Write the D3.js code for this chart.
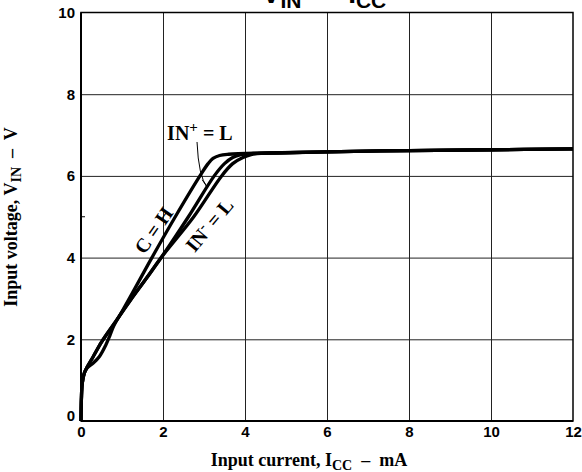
<!DOCTYPE html>
<html>
<head>
<meta charset="utf-8">
<script src="https://cdn.jsdelivr.net/npm/d3@7"></script>
<style>
body { margin: 0; background: #fff; }
text { fill: #000; }
</style>
</head>
<body>
<svg id="chart" width="582" height="472"></svg>
<script>
// axis ticks
const xTicks = [0, 2, 4, 6, 8, 10, 12];
const yTicks = [0, 2, 4, 6, 8, 10];
const yMinor = [5];

// curves, [I_CC mA, V_IN V]
const curveCH = [[0, 0], [0.01, 0.55], [0.03, 0.92], [0.08, 1.17], [0.15, 1.3], [0.3, 1.42], [0.45, 1.58],
    [0.6, 1.85], [0.7, 2.08], [0.8, 2.33], [1.0, 2.68], [1.4, 3.4], [1.73, 4.0], [2.3, 5.0], [2.92, 6.03],
    [3.1, 6.3], [3.22, 6.43], [3.38, 6.5], [3.6, 6.53], [4.5, 6.56], [6, 6.59], [8, 6.62], [10, 6.64], [12, 6.66]];
const curveINp = [[0, 0], [0.01, 0.55], [0.03, 0.92], [0.08, 1.17], [0.15, 1.32], [0.3, 1.58], [0.5, 1.93],
    [0.8, 2.37], [1.2, 2.95], [1.6, 3.5], [1.97, 4.02], [2.62, 5.0], [3.25, 6.0], [3.5, 6.3], [3.7, 6.45],
    [3.9, 6.52], [4.2, 6.55], [4.6, 6.56], [6, 6.59], [8, 6.62], [10, 6.64], [12, 6.66]];
const curveINm = [[0, 0], [0.01, 0.55], [0.03, 0.92], [0.08, 1.17], [0.15, 1.32], [0.3, 1.58], [0.5, 1.93],
    [0.8, 2.37], [1.2, 2.95], [1.6, 3.5], [1.97, 4.02], [2.75, 5.0], [3.43, 6.0], [3.7, 6.3], [3.95, 6.45],
    [4.15, 6.52], [4.4, 6.55], [4.8, 6.56], [6, 6.59], [8, 6.62], [10, 6.64], [12, 6.66]];

const svg = d3.select("#chart");
const x = d3.scaleLinear().domain([0, 12]).range([81, 573]);
const y = d3.scaleLinear().domain([0, 10]).range([421, 12.5]);

const sans = "'Liberation Sans', Arial, sans-serif";
const serif = "'Liberation Serif', 'Times New Roman', serif";

// grid
svg.append("g")
    .attr("transform", "translate(0," + y(0) + ")")
    .call(d3.axisBottom(x).tickValues(xTicks.slice(1, -1)).tickSize(-(y(0) - y(10))).tickFormat(""))
    .call(g => g.select(".domain").remove())
    .selectAll("line").attr("stroke", "#222").attr("stroke-width", 1);

svg.append("g")
    .attr("transform", "translate(" + x(0) + ",0)")
    .call(d3.axisLeft(y).tickValues(yTicks.slice(1, -1)).tickSize(-(x(12) - x(0))).tickFormat(""))
    .call(g => g.select(".domain").remove())
    .selectAll("line").attr("stroke", "#222").attr("stroke-width", 1);

// minor tick
svg.selectAll(".minor")
    .data(yMinor)
    .enter().append("line")
        .attr("x1", x(0)).attr("x2", x(0) + 4)
        .attr("y1", d => y(d)).attr("y2", d => y(d))
        .attr("stroke", "#000").attr("stroke-width", 1);

// frame
svg.append("rect")
    .attr("x", x(0)).attr("y", y(10))
    .attr("width", x(12) - x(0)).attr("height", y(0) - y(10))
    .attr("fill", "none").attr("stroke", "#000").attr("stroke-width", 1.5);
svg.append("line")
    .attr("x1", x(0)).attr("x2", x(0)).attr("y1", y(0)).attr("y2", y(10))
    .attr("stroke", "#000").attr("stroke-width", 2);
svg.append("line")
    .attr("x1", x(0)).attr("x2", x(12)).attr("y1", y(0)).attr("y2", y(0))
    .attr("stroke", "#000").attr("stroke-width", 2);

// tick labels
const xAxis = svg.append("g")
    .attr("transform", "translate(0," + y(0) + ")")
    .call(d3.axisBottom(x).tickValues(xTicks).tickSize(0).tickPadding(5));
xAxis.select(".domain").remove();
xAxis.selectAll("text")
    .style("font-family", sans).style("font-size", "15px").style("font-weight", "bold");

const yAxis = svg.append("g")
    .attr("transform", "translate(" + x(0) + ",0)")
    .call(d3.axisLeft(y).tickValues(yTicks).tickSize(0).tickPadding(6));
yAxis.select(".domain").remove();
yAxis.selectAll("text")
    .style("font-family", sans).style("font-size", "15px").style("font-weight", "bold");
yAxis.selectAll("text").filter(d => d === 0).attr("y", -5);

// curves
const line = d3.line()
    .x(d => x(d[0]))
    .y(d => y(d[1]))
    .curve(d3.curveCatmullRom.alpha(0.5));

svg.selectAll(".curve")
    .data([curveCH, curveINp, curveINm])
    .enter().append("path")
        .attr("class", "curve")
        .attr("d", line)
        .attr("fill", "none")
        .attr("stroke", "#000")
        .attr("stroke-width", 3.3)
        .attr("stroke-linejoin", "round");

// title (cut off at the top)
const title = svg.append("text")
    .attr("x", 324).attr("y", 3)
    .attr("text-anchor", "middle")
    .style("font-family", sans).style("font-size", "28px").style("font-weight", "bold")
    .style("white-space", "pre");
title.append("tspan").text("V");
title.append("tspan").attr("dy", 5).style("font-size", "21px").text("IN");
title.append("tspan").attr("dy", -5).text("  \u2013  I");
title.append("tspan").attr("dy", 5).style("font-size", "21px").text("CC");

// axis titles
const xTitle = svg.append("text")
    .attr("x", 309).attr("y", 466)
    .attr("text-anchor", "middle")
    .style("font-family", serif).style("font-size", "18px").style("font-weight", "bold")
    .style("white-space", "pre");
xTitle.append("tspan").text("Input current, I");
xTitle.append("tspan").attr("dy", 4).style("font-size", "14px").text("CC");
xTitle.append("tspan").attr("dy", -4).text("  \u2013  mA");

const yTitle = svg.append("text")
    .attr("transform", "translate(17," + 217 + ") rotate(-90)")
    .attr("text-anchor", "middle")
    .style("font-family", serif).style("font-size", "18px").style("font-weight", "bold")
    .style("white-space", "pre");
yTitle.append("tspan").text("Input voltage, V");
yTitle.append("tspan").attr("dy", 4).style("font-size", "14px").text("IN");
yTitle.append("tspan").attr("dy", -4).text("  \u2013  V");

// curve labels
const inPlus = svg.append("text")
    .attr("x", x(2.1)).attr("y", y(6.87))
    .style("font-family", serif).style("font-size", "20px").style("font-weight", "bold");
inPlus.append("tspan").text("IN");
inPlus.append("tspan").attr("dy", -8).style("font-size", "15px").text("+");
inPlus.append("tspan").attr("dy", 8).text(" = L");

svg.append("text")
    .attr("transform", "translate(" + x(1.77) + "," + y(4.67) + ") rotate(-55)")
    .attr("text-anchor", "middle").attr("dy", "0.35em")
    .style("font-family", serif).style("font-size", "20px").style("font-weight", "bold")
    .text("C = H");

const inMinus = svg.append("text")
    .attr("transform", "translate(" + x(3.13) + "," + y(4.8) + ") rotate(-50)")
    .attr("text-anchor", "middle").attr("dy", "0.35em")
    .style("font-family", serif).style("font-size", "20px").style("font-weight", "bold");
inMinus.append("tspan").text("IN");
inMinus.append("tspan").attr("dy", -7).style("font-size", "15px").text("-");
inMinus.append("tspan").attr("dy", 7).text(" = L");

// arrow from IN+ label to its curve
const a0 = [x(2.83), y(6.83)];
const a1 = [x(3.08), y(5.72)];
svg.append("path")
    .attr("d", `M${a0[0]},${a0[1]} Q${a0[0] + 1.5},${a0[1] + 35} ${a1[0]},${a1[1]}`)
    .attr("fill", "none").attr("stroke", "#000").attr("stroke-width", 1);
svg.append("path")
    .attr("d", `M${a1[0] - 5},${a1[1] - 7.5} L${a1[0]},${a1[1]} L${a1[0] + 3.5},${a1[1] - 6.5}`)
    .attr("fill", "none").attr("stroke", "#000").attr("stroke-width", 1);
</script>
</body>
</html>
